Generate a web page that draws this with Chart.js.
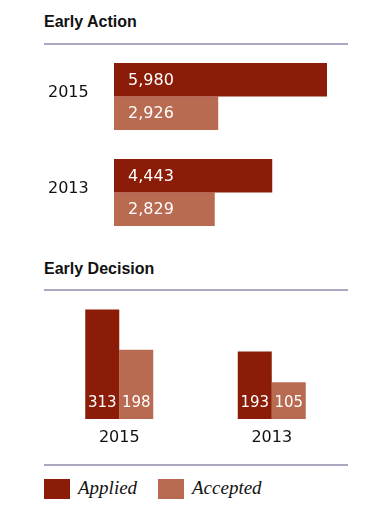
<!DOCTYPE html>
<html>
<head>
<meta charset="utf-8">
<script src="https://cdn.jsdelivr.net/npm/chart.js@4"></script>
<style>
  html, body { margin: 0; padding: 0; background: #fff; }
  #page { position: relative; width: 390px; height: 531px; overflow: hidden; }
  .title { position: absolute; left: 44px; font: bold 16px/16px "Liberation Sans", Arial, sans-serif; color: #111; }
  .rule { position: absolute; left: 44px; width: 304px; height: 2px; background: #aaa9c1; }
  canvas { position: absolute; left: 0; }
  .swatch { position: absolute; top: 479px; width: 26px; height: 20px; }
  .legend-text { position: absolute; top: 477px; font: italic 19px/22px "Liberation Serif", "Times New Roman", serif; color: #111; }
</style>
</head>
<body>
<div id="page">
  <div class="title" style="top:14px">Early Action</div>
  <div class="rule" style="top:43px"></div>
  <canvas id="earlyAction" width="390" height="250" style="top:0"></canvas>

  <div class="title" style="top:261px">Early Decision</div>
  <div class="rule" style="top:288.5px"></div>
  <canvas id="earlyDecision" width="390" height="205" style="top:250px"></canvas>

  <div class="rule" style="top:464px"></div>
  <div class="swatch" style="left:44px;background:#8b1c07"></div>
  <div class="legend-text" style="left:78px">Applied</div>
  <div class="swatch" style="left:158px;background:#b96b51"></div>
  <div class="legend-text" style="left:192px">Accepted</div>
</div>

<script>
// data
const years = ['2015', '2013'];
const eaApplied = [5980, 4443];
const eaAccepted = [2926, 2829];
const edApplied = [313, 193];
const edAccepted = [198, 105];

const APPLIED_COLOR = '#8b1c07';
const ACCEPTED_COLOR = '#b96b51';

// white numbers inside the bars
const valueLabels = {
    id: 'valueLabels',
    afterDatasetsDraw(chart, args, opts) {
        const ctx = chart.ctx;
        const horizontal = chart.options.indexAxis === 'y';
        ctx.save();
        ctx.fillStyle = '#fff';
        ctx.font = opts.font;
        ctx.textBaseline = 'middle';
        chart.data.datasets.forEach((ds, i) => {
            chart.getDatasetMeta(i).data.forEach((bar, j) => {
                const text = ds.data[j].toLocaleString('en-US');
                if (horizontal) {
                    ctx.textAlign = 'left';
                    ctx.fillText(text, bar.base + 14, bar.y + 1);
                } else {
                    ctx.textAlign = 'center';
                    ctx.fillText(text, bar.x, bar.base - 16);
                }
            });
        });
        ctx.restore();
    }
};

Chart.defaults.font.family = '"DejaVu Sans", sans-serif';
Chart.defaults.color = '#111';

// =========================
// Early Action - horizontal bars
// =========================
new Chart(document.getElementById('earlyAction').getContext('2d'), {
    type: 'bar',
    data: {
        labels: years,
        datasets: [
            { label: 'Applied', data: eaApplied, backgroundColor: APPLIED_COLOR },
            { label: 'Accepted', data: eaAccepted, backgroundColor: ACCEPTED_COLOR }
        ]
    },
    options: {
        indexAxis: 'y',
        responsive: false,
        animation: false,
        categoryPercentage: 0.7,
        barPercentage: 1,
        layout: { padding: { left: 48, right: 42, top: 48.5, bottom: 9.5 } },
        scales: {
            x: { display: false, min: 0, max: 6570 },
            y: {
                grid: { display: false, drawTicks: false },
                border: { display: false },
                ticks: { crossAlign: 'far', labelOffset: -3.5, font: { size: 16 } },
                afterFit: s => {
                    s.width = 66;
                    s.paddingTop = 0;
                    s.paddingBottom = 0;
                }
            }
        },
        plugins: {
            legend: { display: false },
            tooltip: { enabled: false },
            valueLabels: { font: '16px "DejaVu Sans", sans-serif' }
        }
    },
    plugins: [valueLabels]
});

// =========================
// Early Decision - vertical bars
// =========================
new Chart(document.getElementById('earlyDecision').getContext('2d'), {
    type: 'bar',
    data: {
        labels: years,
        datasets: [
            { label: 'Applied', data: edApplied, backgroundColor: APPLIED_COLOR },
            { label: 'Accepted', data: edAccepted, backgroundColor: ACCEPTED_COLOR }
        ]
    },
    options: {
        responsive: false,
        animation: false,
        categoryPercentage: 0.446,
        barPercentage: 1,
        layout: { padding: { left: 43, right: 42, top: 50, bottom: 0 } },
        scales: {
            y: { display: false, min: 0, max: 340 },
            x: {
                grid: { display: false, drawTicks: false },
                border: { display: false },
                ticks: { padding: 9, font: { size: 16 } },
                afterFit: s => { s.height = 36; }
            }
        },
        plugins: {
            legend: { display: false },
            tooltip: { enabled: false },
            valueLabels: { font: '15px "DejaVu Sans", sans-serif' }
        }
    },
    plugins: [valueLabels]
});
</script>
</body>
</html>
